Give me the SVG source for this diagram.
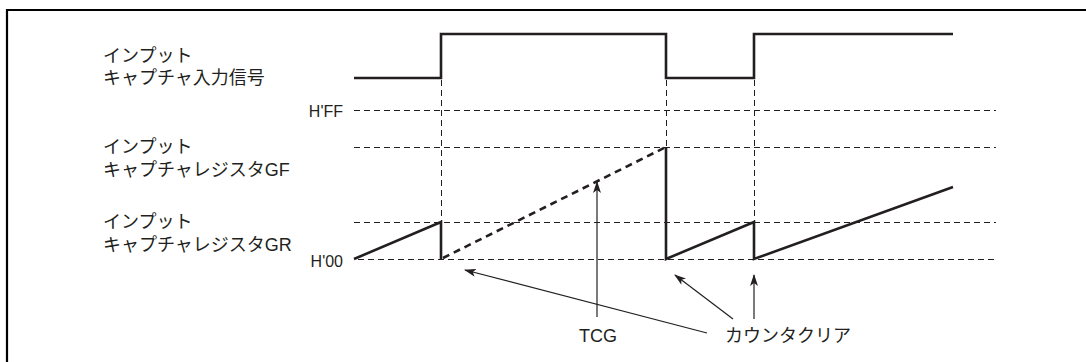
<svg xmlns="http://www.w3.org/2000/svg" width="1086" height="362" viewBox="0 0 1086 362">
<style>
.txt{font-family:"Liberation Sans","Noto Sans CJK JP",sans-serif;font-size:18px;fill:#231f20}
.val{font-family:"Liberation Sans",Arial,sans-serif;font-size:16px;fill:#231f20}
.grid{stroke:#231f20;stroke-width:1;stroke-dasharray:6 4;fill:none;shape-rendering:crispEdges}
.sig{stroke:#231f20;stroke-width:2.6;fill:none;stroke-linejoin:miter}
.sigd{stroke:#231f20;stroke-width:2.6;fill:none;stroke-dasharray:7 5}
.arr{stroke:#231f20;stroke-width:1.2;fill:none;marker-end:url(#ah)}
</style>
<defs>
<marker id="ah" markerWidth="12" markerHeight="8" refX="11" refY="4" orient="auto" markerUnits="userSpaceOnUse">
<path d="M0,0 L12,4 L0,8 L3,4 Z" fill="#231f20"/>
</marker>
</defs>
<rect width="1086" height="362" fill="#fff"/>
<path d="M7,362 V10 H1086" stroke="#000" stroke-width="2.2" fill="none"/>
<g id="labels">
<g id="label-input">
<text class="txt" x="103" y="62">インプット</text>
<text class="txt" x="103" y="84">キャプチャ入力信号</text>
</g>
<g id="label-gf">
<text class="txt" x="103" y="153">インプット</text>
<text class="txt" x="103" y="176">キャプチャレジスタGF</text>
</g>
<g id="label-gr">
<text class="txt" x="103" y="228">インプット</text>
<text class="txt" x="103" y="251">キャプチャレジスタGR</text>
</g>
<g id="label-hff"><text class="val" x="343" y="117" text-anchor="end">H'FF</text></g>
<g id="label-h00"><text class="val" x="343" y="267" text-anchor="end">H'00</text></g>
<g id="label-tcg"><text class="txt" x="598" y="342" text-anchor="middle">TCG</text></g>
<g id="label-clear"><text class="txt" x="725" y="342">カウンタクリア</text></g>
</g>
<g id="grid">
<line class="grid" x1="354" y1="110.5" x2="996" y2="110.5"/>
<line class="grid" x1="354" y1="147.5" x2="996" y2="147.5"/>
<line class="grid" x1="354" y1="222.5" x2="996" y2="222.5"/>
<line class="grid" x1="358" y1="259.5" x2="996" y2="259.5"/>
<line class="grid" x1="441.5" y1="80" x2="441.5" y2="259"/>
<line class="grid" x1="666.5" y1="80" x2="666.5" y2="259"/>
<line class="grid" x1="754.5" y1="80" x2="754.5" y2="259"/>
</g>
<g id="input-signal">
<path class="sig" d="M354,78 H441 V34 H666 V78 H754 V34 H953"/>
</g>
<g id="register">
<path class="sig" d="M354,259 L441,222 V259"/>
<path class="sigd" d="M443,258 L666,147"/>
<path class="sig" d="M666,147 V259 L754,222 V259 L953,187"/>
</g>
<g id="connectors">
<line class="arr" x1="597" y1="317" x2="597" y2="182"/>
<line class="arr" x1="707" y1="333" x2="465" y2="270"/>
<line class="arr" x1="733" y1="319" x2="675" y2="275"/>
<line class="arr" x1="754" y1="319" x2="754" y2="275"/>
</g>
</svg>
